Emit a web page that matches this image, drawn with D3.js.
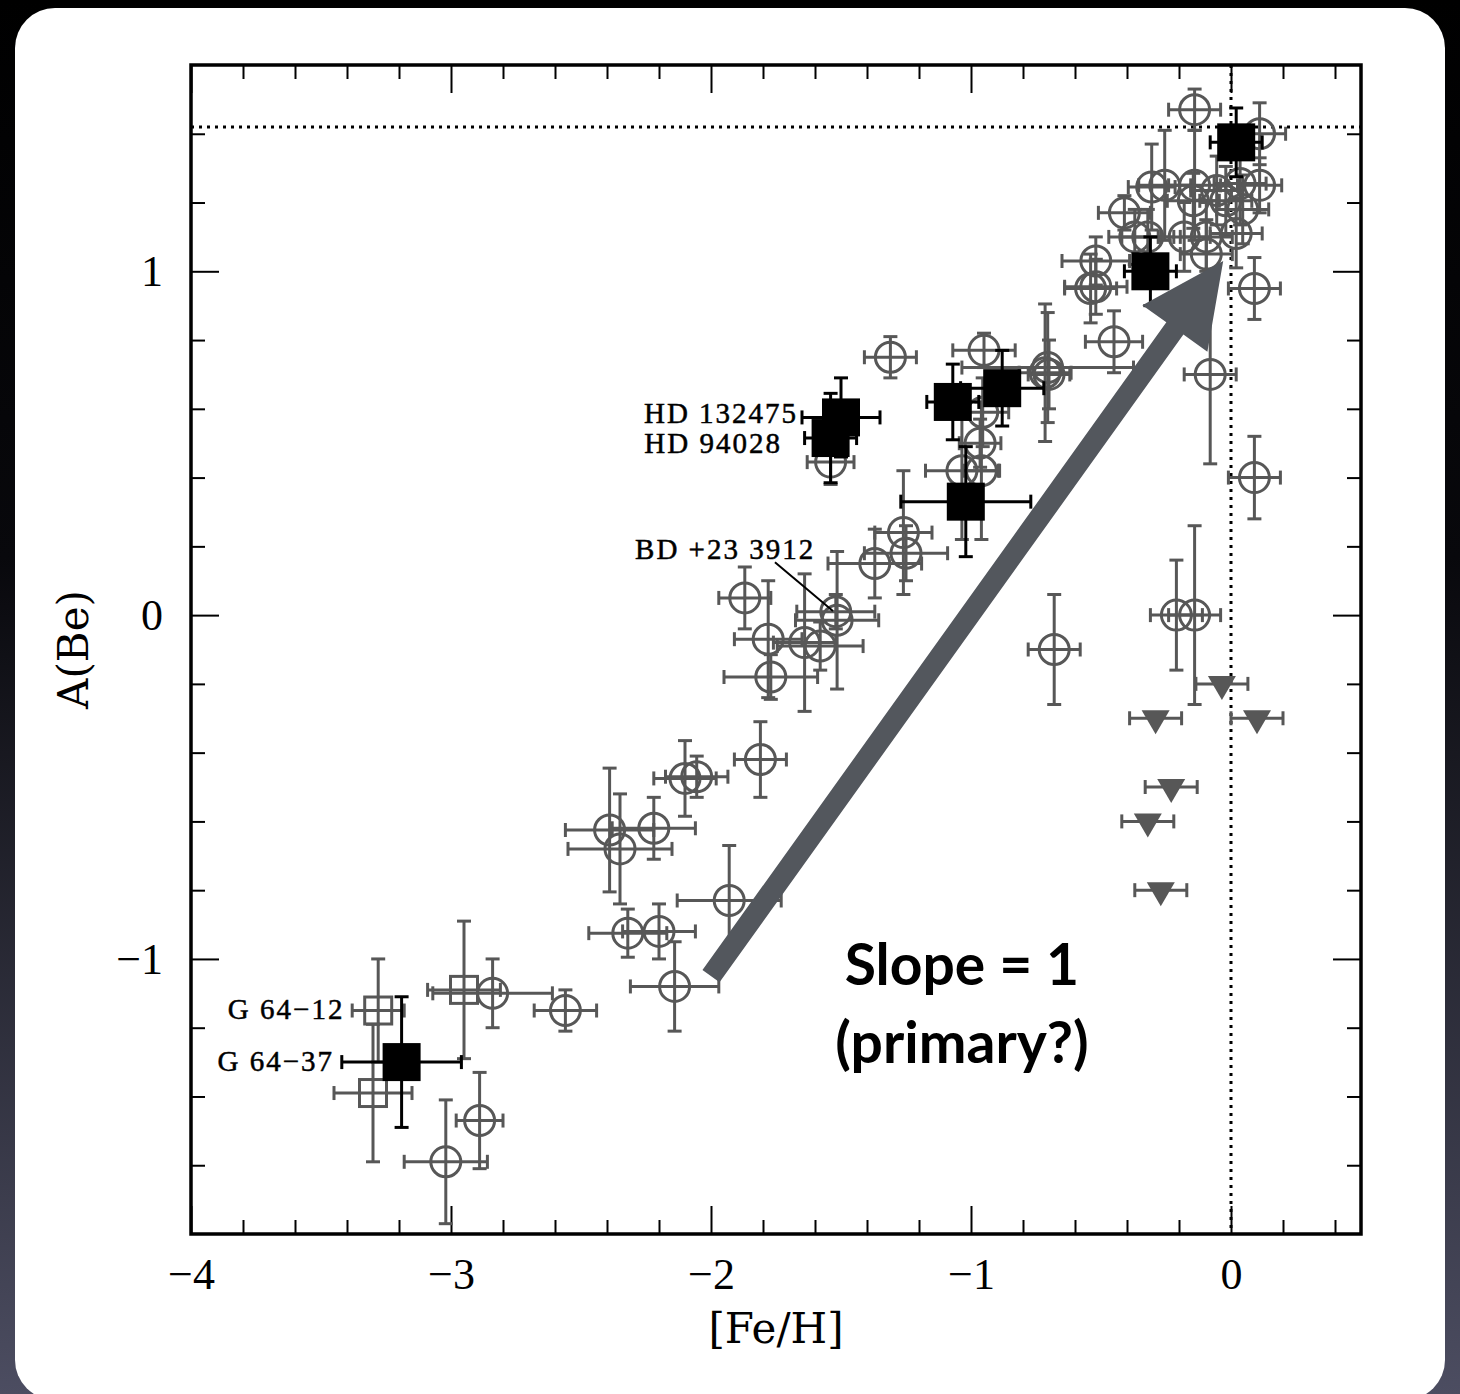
<!DOCTYPE html>
<html>
<head>
<meta charset="utf-8">
<script src="https://cdn.jsdelivr.net/npm/d3@7"></script>
<style>
  html, body { margin: 0; padding: 0; background: #000; }
  svg { display: block; }
</style>
</head>
<body>
<div id="plot"></div>
<script>
// tick labels
var feTicks = [-4, -3, -2, -1, 0];
var beTicks = [-1, 0, 1];
var solarBe = 1.42;

// rows: [Fe/H], A(Be), error in [Fe/H], error in A(Be)
var openCircles = [
  [-3.02, -1.59, 0.16, 0.18],
  [-2.89, -1.47, 0.09, 0.14],
  [-2.84, -1.10, 0.23, 0.10],
  [-2.56, -1.15, 0.12, 0.06],
  [-2.14, -1.08, 0.17, 0.13],
  [-2.32, -0.925, 0.15, 0.07],
  [-2.20, -0.92, 0.14, 0.08],
  [-1.93, -0.83, 0.20, 0.16],
  [-2.39, -0.625, 0.17, 0.18],
  [-2.35, -0.68, 0.20, 0.16],
  [-2.22, -0.62, 0.16, 0.09],
  [-2.10, -0.475, 0.12, 0.11],
  [-2.055, -0.47, 0.12, 0.06],
  [-1.81, -0.42, 0.10, 0.11],
  [-1.87, 0.05, 0.10, 0.09],
  [-1.78, -0.07, 0.13, 0.17],
  [-1.77, -0.18, 0.18, 0.065],
  [-1.64, -0.08, 0.12, 0.20],
  [-1.58, -0.09, 0.165, 0.07],
  [-1.52, 0.01, 0.15, 0.05],
  [-1.515, -0.015, 0.16, 0.20],
  [-1.37, 0.15, 0.18, 0.10],
  [-1.26, 0.24, 0.11, 0.18],
  [-1.25, 0.18, 0.16, 0.08],
  [-0.68, -0.10, 0.10, 0.16],
  [-1.54, 0.445, 0.09, 0.065],
  [-1.31, 0.75, 0.10, 0.06],
  [-0.95, 0.77, 0.12, 0.05],
  [-0.965, 0.50, 0.08, 0.07],
  [-1.035, 0.42, 0.14, 0.20],
  [-0.96, 0.42, 0.07, 0.20],
  [-0.955, 0.59, 0.10, 0.10],
  [-0.715, 0.705, 0.10, 0.20],
  [-0.705, 0.72, 0.33, 0.16],
  [-0.70, 0.70, 0.08, 0.10],
  [-0.45, 0.795, 0.11, 0.09],
  [-0.08, 0.70, 0.10, 0.26],
  [0.09, 0.95, 0.10, 0.09],
  [0.09, 0.40, 0.10, 0.12],
  [-0.54, 0.95, 0.10, 0.10],
  [-0.52, 0.955, 0.12, 0.08],
  [-0.21, 0.0, 0.10, 0.16],
  [-0.14, 0.0, 0.10, 0.26],
  [-0.14, 1.47, 0.10, 0.06],
  [0.11, 1.40, 0.10, 0.09],
  [-0.305, 1.245, 0.09, 0.125],
  [-0.255, 1.25, 0.10, 0.16],
  [-0.14, 1.25, 0.10, 0.16],
  [-0.055, 1.235, 0.10, 0.10],
  [0.035, 1.255, 0.10, 0.12],
  [0.11, 1.25, 0.085, 0.08],
  [-0.145, 1.205, 0.10, 0.08],
  [-0.02, 1.205, 0.10, 0.10],
  [0.045, 1.18, 0.10, 0.10],
  [-0.41, 1.17, 0.10, 0.05],
  [-0.37, 1.10, 0.10, 0.08],
  [-0.32, 1.10, 0.10, 0.08],
  [-0.18, 1.10, 0.10, 0.10],
  [-0.095, 1.10, 0.10, 0.10],
  [0.02, 1.11, 0.10, 0.10],
  [-0.52, 1.03, 0.13, 0.07],
  [-0.095, 1.05, 0.10, 0.10]
];

var openSquares = [
  [-3.28, -1.15, 0.10, 0.15],
  [-3.30, -1.39, 0.15, 0.20],
  [-2.95, -1.09, 0.14, 0.20]
];

var blackSquares = [
  [-3.19, -1.30, 0.23, 0.19],
  [-1.50, 0.575, 0.15, 0.115],
  [-1.54, 0.515, 0.10, 0.13],
  [-1.07, 0.62, 0.10, 0.11],
  [-0.88, 0.66, 0.16, 0.11],
  [-1.02, 0.33, 0.25, 0.16],
  [-0.31, 1.00, 0.10, 0.10],
  [0.02, 1.375, 0.10, 0.10]
];

// upper limits: [Fe/H], A(Be), error in [Fe/H]
var upperLimits = [
  [-0.035, -0.20, 0.10],
  [-0.29, -0.30, 0.10],
  [0.10, -0.30, 0.10],
  [-0.23, -0.50, 0.10],
  [-0.32, -0.60, 0.10],
  [-0.27, -0.80, 0.10]
];

// star names, anchored in data coordinates
var starLabels = [
  {text: "G 64\u221212", fe: -3.41, be: -1.176, anchor: "end"},
  {text: "G 64\u221237", fe: -3.45, be: -1.326, anchor: "end"},
  {text: "HD 132475", fe: -1.665, be: 0.558, anchor: "end"},
  {text: "HD 94028", fe: -1.727, be: 0.471, anchor: "end"},
  {text: "BD +23 3912", fe: -2.292, be: 0.163, anchor: "start"}
];
var leader = [[-1.754, 0.154], [-1.531, 0.012]];
var arrowFrom = [-2.0, -1.05], arrowTo = [-0.03, 1.03];
var slopeText = ["Slope = 1", "(primary?)"];

var W = 1460, H = 1394;
var svg = d3.select("#plot").append("svg")
  .attr("width", W)
  .attr("height", H);

// dark slide background with white card
var defs = svg.append("defs");
var grad = defs.append("linearGradient").attr("id", "bg")
  .attr("x1", 0).attr("y1", 0).attr("x2", 0).attr("y2", 1);
grad.append("stop").attr("offset", "0%").attr("stop-color", "#000");
grad.append("stop").attr("offset", "40%").attr("stop-color", "#08080c");
grad.append("stop").attr("offset", "100%").attr("stop-color", "#4c4d61");
svg.append("rect").attr("width", W).attr("height", H).attr("fill", "url(#bg)");
svg.append("rect")
  .attr("x", 15).attr("y", 8)
  .attr("width", 1430).attr("height", 1392)
  .attr("rx", 40)
  .attr("fill", "#fff");

var margin = {top: 65, right: 99, bottom: 160, left: 191};
var width = W - margin.left - margin.right;   // 1170
var height = 1169;
var g = svg.append("g").attr("transform", `translate(${margin.left}, ${margin.top})`);

var x = d3.scaleLinear().domain([-4, 0.5]).range([0, width]);
var y = d3.scaleLinear().domain([-1.8, 1.6]).range([height, 0]);

var xMinor = d3.range(-3.8, 0.45, 0.2).filter(v => Math.abs(v - Math.round(v)) > 1e-6);
var yMinor = d3.range(-1.6, 1.55, 0.2).filter(v => Math.abs(v - Math.round(v)) > 1e-6);
var fmt = d3.format("d");
var majorLen = 28, minorLen = 14;

function tickAxis(axis, vals, len, labels, pad) {
  return axis.tickValues(vals)
    .tickSizeInner(-len)
    .tickSizeOuter(0)
    .tickPadding(pad || 0)
    .tickFormat(labels ? fmt : "");
}

var axes = g.append("g").attr("class", "axes");
function addAxis(axis, tr) {
  var a = axes.append("g").attr("transform", tr).call(axis);
  a.select(".domain").remove();
  a.selectAll(".tick line").attr("stroke", "#000").attr("stroke-width", 2);
  return a;
}
addAxis(tickAxis(d3.axisBottom(x), feTicks, majorLen, true, 24), `translate(0, ${height})`);
addAxis(tickAxis(d3.axisBottom(x), xMinor, minorLen), `translate(0, ${height})`);
addAxis(tickAxis(d3.axisTop(x), feTicks, majorLen), "translate(0, 0)");
addAxis(tickAxis(d3.axisTop(x), xMinor, minorLen), "translate(0, 0)");
addAxis(tickAxis(d3.axisLeft(y), beTicks, majorLen, true, 28), "translate(0, 0)");
addAxis(tickAxis(d3.axisLeft(y), yMinor, minorLen), "translate(0, 0)");
addAxis(tickAxis(d3.axisRight(y), beTicks, majorLen), `translate(${width}, 0)`);
addAxis(tickAxis(d3.axisRight(y), yMinor, minorLen), `translate(${width}, 0)`);

axes.selectAll(".tick text")
  .attr("fill", "#000")
  .style("font-family", "'Liberation Serif', 'Times New Roman', serif")
  .style("font-size", "44px");

// reference lines: solar Be and solar [Fe/H]
g.append("line")
  .attr("x1", 0).attr("x2", width)
  .attr("y1", y(solarBe)).attr("y2", y(solarBe))
  .attr("stroke", "#000").attr("stroke-width", 3)
  .attr("stroke-dasharray", "3,5");
g.append("line")
  .attr("x1", x(0)).attr("x2", x(0))
  .attr("y1", 0).attr("y2", height)
  .attr("stroke", "#000").attr("stroke-width", 3)
  .attr("stroke-dasharray", "3,5");

var grey = "#575757";
var cap = 7;

function errorBars(layer, rows, color, hasY) {
  var eb = layer.append("g")
    .attr("stroke", color)
    .attr("stroke-width", 3)
    .attr("fill", "none")
    .selectAll("g").data(rows).join("g");
  eb.append("line")
    .attr("x1", d => x(d[0] - d[2])).attr("x2", d => x(d[0] + d[2]))
    .attr("y1", d => y(d[1])).attr("y2", d => y(d[1]));
  eb.append("line")
    .attr("x1", d => x(d[0] - d[2])).attr("x2", d => x(d[0] - d[2]))
    .attr("y1", d => y(d[1]) - cap).attr("y2", d => y(d[1]) + cap);
  eb.append("line")
    .attr("x1", d => x(d[0] + d[2])).attr("x2", d => x(d[0] + d[2]))
    .attr("y1", d => y(d[1]) - cap).attr("y2", d => y(d[1]) + cap);
  if (hasY) {
    eb.append("line")
      .attr("x1", d => x(d[0])).attr("x2", d => x(d[0]))
      .attr("y1", d => y(d[1] - d[3])).attr("y2", d => y(d[1] + d[3]));
    eb.append("line")
      .attr("x1", d => x(d[0]) - cap).attr("x2", d => x(d[0]) + cap)
      .attr("y1", d => y(d[1] + d[3])).attr("y2", d => y(d[1] + d[3]));
    eb.append("line")
      .attr("x1", d => x(d[0]) - cap).attr("x2", d => x(d[0]) + cap)
      .attr("y1", d => y(d[1] - d[3])).attr("y2", d => y(d[1] - d[3]));
  }
}

var pts = g.append("g").attr("class", "points");

// open circles
errorBars(pts, openCircles, grey, true);
pts.append("g").selectAll("circle").data(openCircles).join("circle")
  .attr("cx", d => x(d[0])).attr("cy", d => y(d[1]))
  .attr("r", 15)
  .attr("fill", "none")
  .attr("stroke", grey).attr("stroke-width", 3);

// open squares
errorBars(pts, openSquares, grey, true);
pts.append("g").selectAll("rect").data(openSquares).join("rect")
  .attr("x", d => x(d[0]) - 13.5).attr("y", d => y(d[1]) - 13.5)
  .attr("width", 27).attr("height", 27)
  .attr("fill", "none")
  .attr("stroke", grey).attr("stroke-width", 3);

// upper limits
errorBars(pts, upperLimits, grey, false);
pts.append("g").selectAll("path").data(upperLimits).join("path")
  .attr("transform", d => `translate(${x(d[0])}, ${y(d[1])})`)
  .attr("d", "M-14,-8L14,-8L0,16Z")
  .attr("fill", grey);

// filled squares
errorBars(pts, blackSquares, "#000", true);
pts.append("g").selectAll("rect").data(blackSquares).join("rect")
  .attr("x", d => x(d[0]) - 19).attr("y", d => y(d[1]) - 19)
  .attr("width", 38).attr("height", 38)
  .attr("fill", "#000");

// frame
g.append("rect")
  .attr("width", width).attr("height", height)
  .attr("fill", "none")
  .attr("stroke", "#000").attr("stroke-width", 3.5);

// star names
g.append("g").selectAll("text").data(starLabels).join("text")
  .attr("x", d => x(d.fe)).attr("y", d => y(d.be))
  .attr("text-anchor", d => d.anchor)
  .attr("fill", "#000")
  .attr("stroke", "#000").attr("stroke-width", 0.5)
  .style("font-family", "'Liberation Serif', 'Times New Roman', serif")
  .style("font-size", "29px")
  .style("letter-spacing", "2px")
  .text(d => d.text);
g.append("line")
  .attr("x1", x(leader[0][0])).attr("y1", y(leader[0][1]))
  .attr("x2", x(leader[1][0])).attr("y2", y(leader[1][1]))
  .attr("stroke", "#000").attr("stroke-width", 2);

// slope arrow
var p0 = [x(arrowFrom[0]), y(arrowFrom[1])];
var p1 = [x(arrowTo[0]), y(arrowTo[1])];
var len = Math.hypot(p1[0] - p0[0], p1[1] - p0[1]);
var ux = (p1[0] - p0[0]) / len, uy = (p1[1] - p0[1]) / len;
var nx = -uy, ny = ux;
var headLen = 83, headW = 40, shaftW = 10.5;
var bx = p1[0] - ux * headLen, by = p1[1] - uy * headLen;
var arrowPts = [
  [p0[0] + nx * shaftW, p0[1] + ny * shaftW],
  [bx + nx * shaftW, by + ny * shaftW],
  [bx + nx * headW, by + ny * headW],
  p1,
  [bx - nx * headW, by - ny * headW],
  [bx - nx * shaftW, by - ny * shaftW],
  [p0[0] - nx * shaftW, p0[1] - ny * shaftW]
];
g.append("path")
  .attr("d", d3.line()(arrowPts) + "Z")
  .attr("fill", "#53575d");

g.append("g").selectAll("text").data(slopeText).join("text")
  .attr("x", x(-1.035))
  .attr("y", (d, i) => y(-1.076) + i * 78)
  .attr("text-anchor", "middle")
  .attr("fill", "#000")
  .style("font-family", "Lato, 'Open Sans', sans-serif")
  .style("font-weight", "bold")
  .style("font-size", "57px")
  .text(d => d);

// axis titles
svg.append("text")
  .attr("x", margin.left + width / 2)
  .attr("y", 1343)
  .attr("text-anchor", "middle")
  .style("font-family", "'DejaVu Serif', serif")
  .style("font-size", "42px")
  .text("[Fe/H]");
svg.append("text")
  .attr("transform", `translate(88, ${margin.top + height / 2}) rotate(-90)`)
  .attr("text-anchor", "middle")
  .style("font-family", "'DejaVu Serif', serif")
  .style("font-size", "42px")
  .text("A(Be)");
</script>
</body>
</html>
